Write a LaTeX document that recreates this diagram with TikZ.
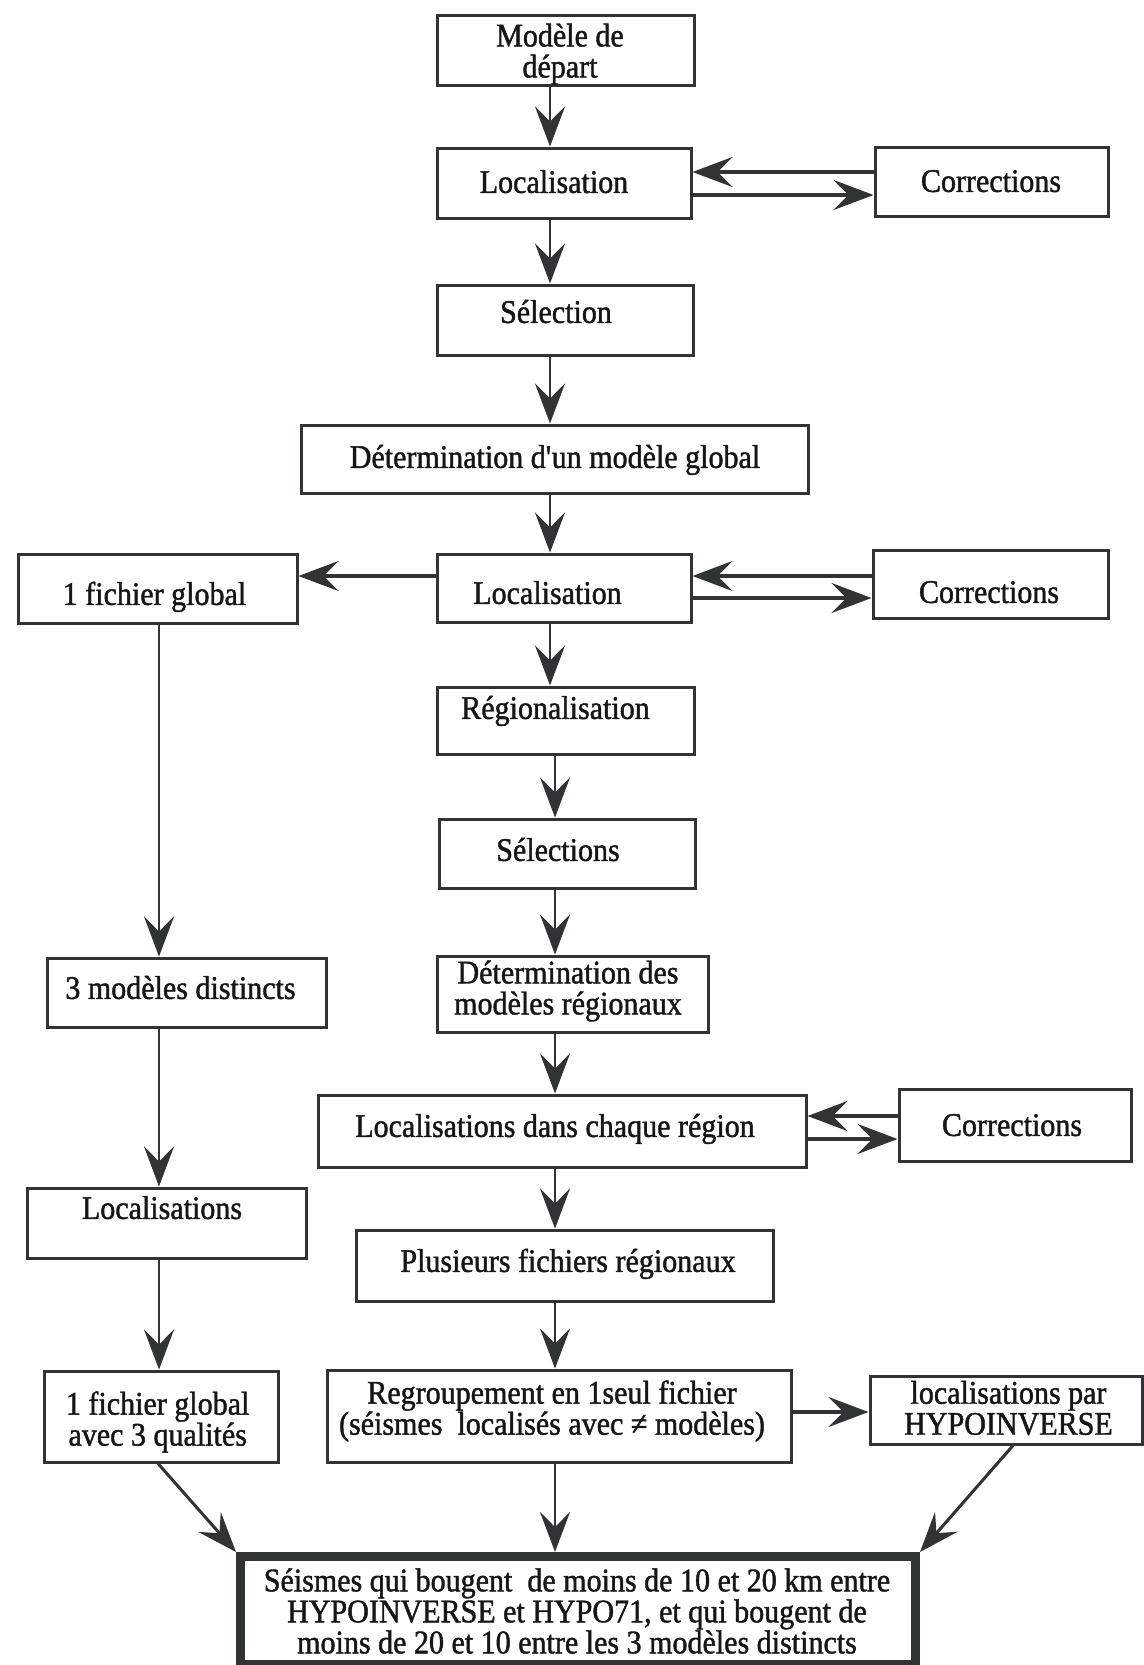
\documentclass[tikz,border=0pt]{standalone}
\usepackage{fontspec}
\setmainfont{Liberation Serif}[FakeStretch=0.91,FakeBold=1.3]
\usetikzlibrary{arrows.meta}
\definecolor{linec}{RGB}{48,52,52}
\definecolor{txtc}{RGB}{22,22,22}
\setlength{\lineskiplimit}{-20pt}
\begin{document}
\begin{tikzpicture}[x=0.5pt,y=-0.5pt,
  box/.style={draw=linec, line width=1.5pt, fill=white, inner sep=0pt},
  wh/.style 2 args={minimum width=#1*0.5pt, minimum height=#2*0.5pt},
  one/.style={text=txtc, font=\fontsize{16.5pt}{15.5pt}\selectfont, inner sep=0pt, text height=10.9pt, text depth=0pt},
  multi/.style={text=txtc, font=\fontsize{16.5pt}{15.5pt}\selectfont, inner sep=0pt, align=center},
  arr/.style={draw=linec, line width=1.1pt, -{Stealth[length=20pt,width=15pt,inset=7.5pt]}},
  arrt/.style={arr, line width=1.8pt},
  arrd/.style={arr, line width=1.5pt},
]
\fill[white] (0,0) rectangle (1144,1665);
\useasboundingbox (0,0) rectangle (1144,1665);

% boxes
\node[box, wh={257}{70}] (modele) at (565.5,50) {};
\node[box, wh={254}{70}] (loc1) at (564,183) {};
\node[box, wh={233}{69}] (corr1) at (991.5,181.5) {};
\node[box, wh={256}{70}] (sel) at (565,320) {};
\node[box, wh={507}{68}] (detg) at (554.5,459) {};
\node[box, wh={279}{69}] (fichg) at (157.5,588.5) {};
\node[box, wh={254}{68}] (loc2) at (564,588) {};
\node[box, wh={235}{68}] (corr2) at (990.5,584) {};
\node[box, wh={257}{67}] (reg) at (565.5,720.5) {};
\node[box, wh={256}{69}] (sels) at (567,853.5) {};
\node[box, wh={279}{69}] (trois) at (186.5,992.5) {};
\node[box, wh={271}{76}] (detr) at (572.5,994) {};
\node[box, wh={488}{72}] (locr) at (562,1131) {};
\node[box, wh={232}{72}] (corr3) at (1015,1125) {};
\node[box, wh={279}{70}] (locs) at (166.5,1223) {};
\node[box, wh={417}{71}] (plus) at (564.5,1265.5) {};
\node[box, wh={234}{91}] (fich3) at (161,1416.5) {};
\node[box, wh={464}{92}] (regr) at (559,1416) {};
\node[box, wh={272}{68}] (hypo) at (1006,1410) {};
\node[box, line width=4.5pt, wh={675}{108}] (final) at (578,1610.5) {};

% texts
\node[multi] (t-modele) at (560,54) {Modèle de\\départ};
\node[one] (t-loc1) at (554,182) {Localisation};
\node[one] (t-corr1) at (991,181) {Corrections};
\node[one] (t-sel) at (556,312) {Sélection};
\node[one] (t-detg) at (555,457) {Détermination d\textquotesingle un modèle global};
\node[one] (t-fichg) at (154.5,594) {1 fichier global};
\node[one] (t-loc2) at (547.5,593) {Localisation};
\node[one] (t-corr2) at (989,592) {Corrections};
\node[one] (t-reg) at (555.5,708) {Régionalisation};
\node[one] (t-sels) at (558,850) {Sélections};
\node[one] (t-trois) at (180.5,988) {3 modèles distincts};
\node[multi] (t-detr) at (568,991) {Détermination des\\modèles régionaux};
\node[one] (t-locr) at (555,1126) {Localisations dans chaque région};
\node[one] (t-corr3) at (1012,1125) {Corrections};
\node[one] (t-locs) at (162,1208) {Localisations};
\node[one] (t-plus) at (568,1261) {Plusieurs fichiers régionaux};
\node[multi] (t-fich3) at (157.7,1422) {1 fichier global\\avec 3 qualités};
\node[multi] (t-regr) at (552,1411) {Regroupement en 1seul fichier\\(séismes~ localisés avec ≠ modèles)};
\node[multi] (t-hypo) at (1008.5,1408) {localisations par\\HYPOINVERSE};
\node[multi] (t-final) at (577,1611) {Séismes qui bougent~ de moins de 10 et 20 km entre\\HYPOINVERSE et HYPO71, et qui bougent de\\moins de 20 et 10 entre les 3 modèles distincts};

% column coordinates
\coordinate (mc) at (550,0);
\coordinate (mc2) at (555,0);
\coordinate (lc) at (159,0);

% main column arrows
\draw[arr] (modele.south -| mc) -- (loc1.north -| mc);
\draw[arr] (loc1.south -| mc) -- (sel.north -| mc);
\draw[arr] (sel.south -| mc) -- (detg.north -| mc);
\draw[arr] (detg.south -| mc) -- (loc2.north -| mc);
\draw[arr] (loc2.south -| mc) -- (reg.north -| mc);
\draw[arr] (reg.south -| mc2) -- (sels.north -| mc2);
\draw[arr] (sels.south -| mc2) -- (detr.north -| mc2);
\draw[arr] (detr.south -| mc2) -- (locr.north -| mc2);
\draw[arr] (locr.south -| mc2) -- (plus.north -| mc2);
\draw[arr] (plus.south -| mc2) -- (regr.north -| mc2);
\draw[arr] (regr.south -| mc2) -- (final.north -| mc2);

% left column arrows
\draw[arr] (fichg.south -| lc) -- (trois.north -| lc);
\draw[arr] (trois.south -| lc) -- (locs.north -| lc);
\draw[arr] (locs.south -| lc) -- (fich3.north -| lc);

% corrections loops
\draw[arrt] (corr1.west |- 0,172) -- (loc1.east |- 0,172);
\draw[arrt] (loc1.east |- 0,195) -- (corr1.west |- 0,195);
\draw[arrt] (corr2.west |- 0,576) -- (loc2.east |- 0,576);
\draw[arrt] (loc2.east |- 0,598) -- (corr2.west |- 0,598);
\draw[arrt] (corr3.west |- 0,1116) -- (locr.east |- 0,1116);
\draw[arrt] (locr.east |- 0,1139) -- (corr3.west |- 0,1139);

% other horizontals
\draw[arrt] (loc2.west |- 0,576) -- (fichg.east |- 0,576);
\draw[arrt] (regr.east |- 0,1412) -- (hypo.west |- 0,1412);

% diagonals
\draw[arrd] (fich3.south -| 158,0) -- (final.north west);
\draw[arrd] (hypo.south -| 1013,0) -- (final.north east);
\end{tikzpicture}
\end{document}
